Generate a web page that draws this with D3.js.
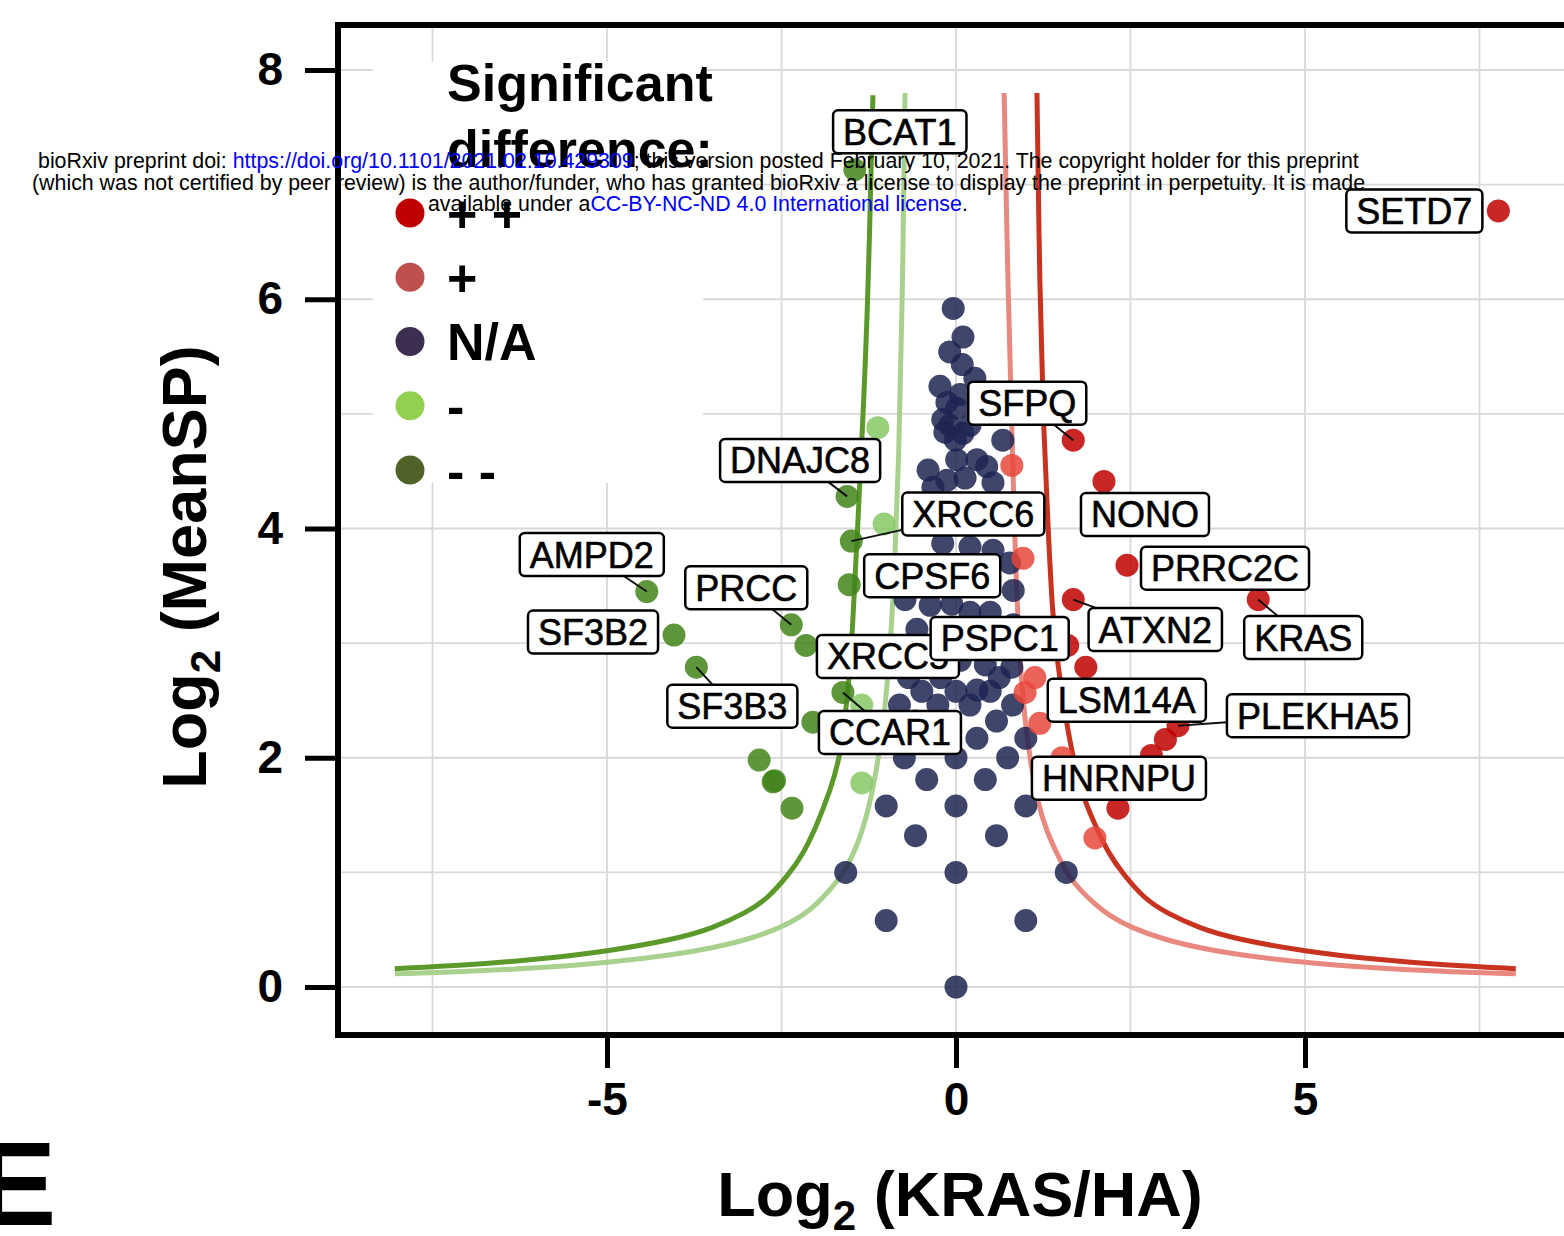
<!DOCTYPE html>
<html>
<head>
<meta charset="utf-8">
<title>Log2 (MeanSP) vs Log2 (KRAS/HA)</title>
<script src="https://d3js.org/d3.v7.min.js"></script>
<style>
    body { margin: 0; background: #fff; }
    svg { display: block; font-family: "Liberation Sans", Arial, sans-serif; }
</style>
</head>
<body>
<svg id="chart" width="1564" height="1236"></svg>
<script>
    'use strict';

    // ---- data ----
    // labelled genes
    const geneName = ["BCAT1", "DNAJC8", "XRCC6", "CPSF6", "AMPD2", "SF3B2", "PRCC", "XRCC5", "SF3B3", "CCAR1",
                      "SETD7", "SFPQ", "NONO", "PRRC2C", "KRAS", "ATXN2", "PSPC1", "PLEKHA5", "LSM14A", "HNRNPU"];
    const geneX = [-1.45, -1.56, -1.5, -1.53, -4.43, -4.04, -2.36, -2.15, -3.72, -1.62,
                   7.77, 1.68, 2.12, 2.45, 4.33, 1.68, 1.6, 3.18, 1.86, 2.32];
    const geneY = [7.13, 4.28, 3.89, 3.51, 3.45, 3.07, 3.16, 2.98, 2.79, 2.57,
                   6.77, 4.77, 4.41, 3.68, 3.38, 3.38, 2.98, 2.28, 2.79, 1.56];
    const geneSig = ["--", "--", "--", "--", "--", "--", "--", "--", "--", "--",
                     "++", "++", "++", "++", "++", "++", "++", "++", "++", "++"];

    // unlabelled points per class
    const ppX = [3.0, 2.8];
    const ppY = [2.16, 2.02];
    const pX = [0.8, 0.96, 1.13, 0.99, 1.2, 1.52, 1.99];
    const pY = [4.55, 3.74, 2.7, 2.57, 2.3, 2.0, 1.3];
    const mX = [-1.12, -1.03, -1.35, -1.35];
    const mY = [4.88, 4.04, 2.46, 1.78];
    const mmX = [-2.05, -2.82, -2.62, -2.6, -2.35];
    const mmY = [2.31, 1.98, 1.79, 1.8, 1.56];
    const naX = [0, -1, 1, -1.58, 0, 1.58, -0.58, 0.58, -1, 0, 1, -0.42, 0.42, -0.74, 0, 0.74,
                 -0.32, 0.3, 1, -0.58, 0.58, -0.81, -0.26, 0.2, 0.81, -0.49, 0, 0.3, 0.49,
                 -0.68, -0.22, 0.62, -0.38, 0.06, 0.42, 0.8, -0.13, 0.3, -0.56, 0.82,
                 -0.73, -0.37, -0.06, 0.2, 0.49, 0.82, -0.45, 0.05, -0.19, 0.2, 0.53, 0.77,
                 -0.35, 0.15, 0.6, -0.33, -0.13, 0.13, 0.53, -0.4, 0.44, 0.01, 0.3,
                 0.67, -0.01, -0.16, 0.1, -0.19, -0.09, 0.2, 0.01, -0.13, 0.06, -0.23,
                 0.27, 0.09, -0.09, 0.1, -0.04];
    const naY = [0, 0.58, 0.58, 1, 1, 1, 1.32, 1.32, 1.58, 1.58, 1.58, 1.81, 1.81, 2, 2, 2,
                 2.17, 2.17, 2.17, 2.32, 2.32, 2.46, 2.46, 2.46, 2.46, 2.58, 2.58, 2.59, 2.58,
                 2.7, 2.7, 2.7, 2.81, 2.85, 2.81, 2.79, 2.95, 2.98, 3.12, 3.16,
                 3.38, 3.33, 3.34, 3.27, 3.27, 3.46, 3.65, 3.62, 3.87, 3.84, 3.81, 3.7,
                 4.15, 4.1, 4.2, 4.36, 4.42, 4.44, 4.4, 4.51, 4.54, 4.6, 4.6,
                 4.77, 4.77, 4.84, 4.83, 4.95, 4.9, 4.9, 5.05, 5.1, 5.17, 5.24,
                 5.31, 5.43, 5.54, 5.67, 5.92];

    // significance threshold curves
    const ddCurveX = [-8.04, -7, -6, -5, -4, -3.5, -3, -2.7, -2.4, -2.2, -2.0, -1.8, -1.66, -1.56, -1.49, -1.41, -1.33, -1.26, -1.19];
    const ddCurveY = [0.16, 0.19, 0.24, 0.31, 0.42, 0.51, 0.65, 0.77, 0.98, 1.15, 1.4, 1.72, 2.0, 2.5, 3.0, 4.0, 5.0, 6.0, 7.78];
    const dCurveX = [-8.04, -7, -6, -5, -4, -3.5, -3, -2.5, -2.2, -2.0, -1.8, -1.6, -1.4, -1.25, -1.12, -1.02, -0.95, -0.88, -0.82, -0.77, -0.73];
    const dCurveY = [0.115, 0.135, 0.165, 0.21, 0.285, 0.34, 0.41, 0.52, 0.62, 0.72, 0.85, 1.0, 1.25, 1.55, 1.95, 2.4, 2.9, 3.6, 4.6, 5.9, 7.8];
    const uCurveX = [0.69, 0.745, 0.8, 0.84, 0.9, 0.97, 1.06, 1.16, 1.3, 1.49, 1.6, 1.8, 2.0, 2.2, 2.5, 3.0, 3.5, 4, 5, 6, 7, 8.02];
    const uCurveY = [7.8, 6.06, 4.9, 3.9, 3.0, 2.4, 2.0, 1.63, 1.35, 1.11, 0.98, 0.83, 0.72, 0.62, 0.52, 0.41, 0.34, 0.285, 0.21, 0.165, 0.135, 0.115];
    const uuCurveX = [1.16, 1.2, 1.25, 1.32, 1.38, 1.46, 1.56, 1.66, 1.78, 2.0, 2.18, 2.4, 2.7, 3.0, 3.5, 4, 5, 6, 7, 8.02];
    const uuCurveY = [7.8, 6.06, 4.92, 4.0, 3.26, 2.8, 2.39, 2.05, 1.72, 1.4, 1.17, 0.98, 0.77, 0.65, 0.51, 0.42, 0.31, 0.24, 0.19, 0.16];

    const xTicks = [-5, 0, 5];
    const yTicks = [0, 2, 4, 6, 8];
    const xGrid = [-7.5, -5, -2.5, 0, 2.5, 5, 7.5];
    const yGrid = [0, 1, 2, 3, 4, 5, 6, 7, 8];
    const legendKeys = ["++", "+", "N/A", "-", "--"];
    const legendText = ["+ +", "+", "N/A", "-", "- -"];

    // ---- layout ----
    const panel = { left: 338, right: 1600, top: 25, bottom: 1035 };
    const x = d3.scaleLinear().domain([-5, 5]).range([607, 1305]);
    const y = d3.scaleLinear().domain([0, 8]).range([987, 70]);

    const pointColor = { "++": "#c00000", "+": "#e8463c", "N/A": "#1f2452", "-": "#86c865", "--": "#42841a" };
    const legendColor = { "++": "#c00000", "+": "#c0504d", "N/A": "#3d2f50", "-": "#92d050", "--": "#4f6228" };

    // label box centre, offset in px from its point (ggrepel result)
    const labelOffset = {
        BCAT1: [45, -38], DNAJC8: [-47, -36], XRCC6: [122, -27], CPSF6: [83, -9], AMPD2: [-55, -37],
        SF3B2: [-81, -3], PRCC: [-45, -37], XRCC5: [82, 11], SF3B3: [36, 39], CCAR1: [47, 40],
        SETD7: [-84, 0], SFPQ: [-46, -37], NONO: [41, 33], PRRC2C: [98, 3], KRAS: [45, 38],
        ATXN2: [82, 30], PSPC1: [-68, -7], PLEKHA5: [140, -10], LSM14A: [41, 33], HNRNPU: [1, -30]
    };
    const withSegment = ["DNAJC8", "XRCC6", "AMPD2", "PRCC", "SF3B3", "CCAR1", "SFPQ", "ATXN2", "KRAS", "PLEKHA5"];

    const svg = d3.select("#chart");

    svg.append("defs").append("clipPath").attr("id", "clip")
        .append("rect")
        .attr("x", panel.left).attr("y", panel.top)
        .attr("width", panel.right - panel.left).attr("height", panel.bottom - panel.top);

    // grid
    const grid = svg.append("g").attr("stroke", "#d9d9d9").attr("stroke-width", 1.8);
    grid.selectAll("line.vx").data(xGrid).join("line")
        .attr("x1", d => x(d)).attr("x2", d => x(d))
        .attr("y1", panel.top).attr("y2", panel.bottom);
    grid.selectAll("line.hy").data(yGrid).join("line")
        .attr("y1", d => y(d)).attr("y2", d => y(d))
        .attr("x1", panel.left).attr("x2", panel.right);

    // legend background
    svg.append("rect")
        .attr("x", 373).attr("y", 62).attr("width", 330).attr("height", 421)
        .attr("fill", "#fff");

    const plot = svg.append("g").attr("clip-path", "url(#clip)");

    // curves
    const line = d3.line().x(d => x(d[0])).y(d => y(d[1])).curve(d3.curveBasis);
    const curves = [
        { xs: ddCurveX, ys: ddCurveY, color: "#5b9a2a" },
        { xs: dCurveX, ys: dCurveY, color: "#a9d18e" },
        { xs: uCurveX, ys: uCurveY, color: "#e9887e" },
        { xs: uuCurveX, ys: uuCurveY, color: "#c8331f" }
    ];
    plot.selectAll("path.curve").data(curves).join("path")
        .attr("fill", "none")
        .attr("stroke", d => d.color)
        .attr("stroke-width", 5)
        .attr("d", d => line(d3.zip(d.xs, d.ys)));

    // points
    const points = [];
    const addPoints = (xs, ys, sig) => xs.forEach((v, i) => points.push({ x: v, y: ys[i], sig: sig }));
    addPoints(naX, naY, "N/A");
    addPoints(mX, mY, "-");
    addPoints(mmX, mmY, "--");
    addPoints(pX, pY, "+");
    addPoints(ppX, ppY, "++");
    const genes = geneName.map((g, i) => ({ name: g, x: geneX[i], y: geneY[i], sig: geneSig[i] }));
    genes.forEach(g => points.push(g));

    plot.selectAll("circle.pt").data(points).join("circle")
        .attr("cx", d => x(d.x))
        .attr("cy", d => y(d.y))
        .attr("r", 11.5)
        .attr("fill", d => pointColor[d.sig])
        .attr("fill-opacity", 0.85);

    // label segments
    plot.selectAll("line.seg").data(genes.filter(g => withSegment.includes(g.name))).join("line")
        .attr("x1", d => x(d.x)).attr("y1", d => y(d.y))
        .attr("x2", d => x(d.x) + labelOffset[d.name][0])
        .attr("y2", d => y(d.y) + labelOffset[d.name][1])
        .attr("stroke", "#111").attr("stroke-width", 2);

    // label boxes
    const labels = plot.selectAll("g.lab").data(genes).join("g")
        .attr("transform", d => `translate(${x(d.x) + labelOffset[d.name][0]},${y(d.y) + labelOffset[d.name][1]})`);
    labels.each(function (d) {
        const g = d3.select(this);
        const t = g.append("text")
            .attr("text-anchor", "middle")
            .attr("dy", "0.36em")
            .style("font-size", "36px")
            .attr("fill", "#000")
            .attr("stroke", "#000")
            .attr("stroke-width", 0.6)
            .text(d.name);
        const w = t.node().getComputedTextLength() + 20;
        g.insert("rect", "text")
            .attr("x", -w / 2).attr("y", -21.5)
            .attr("width", w).attr("height", 43)
            .attr("rx", 5)
            .attr("fill", "#fff")
            .attr("stroke", "#000")
            .attr("stroke-width", 2.5);
    });

    // axes
    const yAxis = svg.append("g")
        .attr("transform", `translate(${panel.left},0)`)
        .call(d3.axisLeft(y).tickValues(yTicks).tickSize(33).tickPadding(22).tickFormat(d3.format("d")));
    const xAxis = svg.append("g")
        .attr("transform", `translate(0,${panel.bottom})`)
        .call(d3.axisBottom(x).tickValues(xTicks).tickSize(33).tickPadding(14).tickFormat(d => d < 0 ? "-" + Math.abs(d) : d));
    [yAxis, xAxis].forEach(a => {
        a.select(".domain").remove();
        a.selectAll(".tick line").attr("stroke", "#000").attr("stroke-width", 5);
        a.selectAll(".tick text")
            .attr("fill", "#000")
            .style("font-family", "'Liberation Sans', Arial, sans-serif")
            .style("font-size", "46px")
            .style("font-weight", "bold");
    });

    // panel border
    svg.append("path")
        .attr("d", `M${panel.right},${panel.top}H${panel.left}V${panel.bottom}H${panel.right}`)
        .attr("fill", "none")
        .attr("stroke", "#000")
        .attr("stroke-width", 6);

    // axis titles
    const yTitle = svg.append("text")
        .attr("transform", "translate(206,567) rotate(-90)")
        .attr("text-anchor", "middle")
        .style("font-size", "63px").style("font-weight", "bold");
    yTitle.append("tspan").text("Log");
    yTitle.append("tspan").attr("dy", 14).style("font-size", "42px").text("2");
    yTitle.append("tspan").attr("dy", -14).text(" (MeanSP)");

    const xTitle = svg.append("text")
        .attr("x", 960).attr("y", 1216)
        .attr("text-anchor", "middle")
        .style("font-size", "63px").style("font-weight", "bold");
    xTitle.append("tspan").text("Log");
    xTitle.append("tspan").attr("dy", 14).style("font-size", "42px").text("2");
    xTitle.append("tspan").attr("dy", -14).text(" (KRAS/HA)");

    // legend
    const legend = svg.append("g");
    legend.append("text").attr("x", 447).attr("y", 101)
        .style("font-size", "52px").style("font-weight", "bold").text("Significant");
    legend.append("text").attr("x", 447).attr("y", 167)
        .style("font-size", "52px").style("font-weight", "bold").text("difference:");
    const legendY = d3.scalePoint().domain(legendKeys).range([213, 470]);
    legend.selectAll("circle").data(legendKeys).join("circle")
        .attr("cx", 410).attr("cy", d => legendY(d)).attr("r", 14.5)
        .attr("fill", d => legendColor[d]);
    legend.selectAll("text.key").data(legendKeys).join("text")
        .attr("class", "key")
        .attr("x", 447).attr("y", d => legendY(d)).attr("dy", "0.36em")
        .style("font-size", "52px").style("font-weight", "bold")
        .text((d, i) => legendText[i]);

    // panel letter
    svg.append("text").attr("x", -23).attr("y", 1225)
        .style("font-size", "119px").style("font-weight", "bold").text("E");

    // bioRxiv watermark
    const stamp = [
        { left: 38, right: 1359, base: 168, parts: [["bioRxiv preprint doi: ", "#000"], ["https://doi.org/10.1101/2021.02.10.429309", "#0000ff"], ["; this version posted February 10, 2021. The copyright holder for this preprint", "#000"]] },
        { left: 32, right: 1366, base: 190, parts: [["(which was not certified by peer review) is the author/funder, who has granted bioRxiv a license to display the preprint in perpetuity. It is made", "#000"]] },
        { left: 428, right: 968, base: 211, parts: [["available under a", "#000"], ["CC-BY-NC-ND 4.0 International license", "#0000ff"], [".", "#000"]] }
    ];
    stamp.forEach(s => {
        const t = svg.append("text").attr("x", s.left).attr("y", s.base).style("font-size", "18px");
        s.parts.forEach(p => t.append("tspan").attr("fill", p[1]).text(p[0]));
        const len = t.node().getComputedTextLength();
        t.style("font-size", (18 * (s.right - s.left) / len) + "px");
    });
</script>
</body>
</html>
